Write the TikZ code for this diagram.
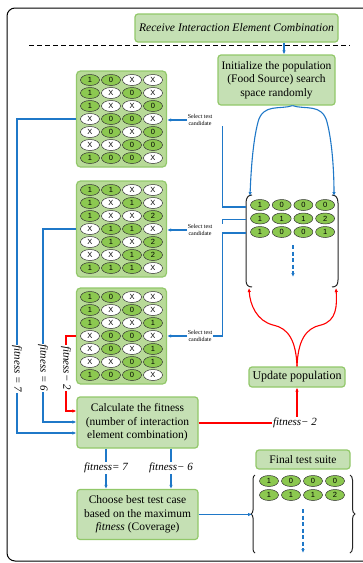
\documentclass[tikz,border=0pt]{standalone}
\usepackage{fontspec}
\setmainfont{Liberation Serif}
\setsansfont{Liberation Sans}
\usetikzlibrary{shapes.geometric,arrows.meta,decorations.pathreplacing,calc}

\definecolor{boxfill}{HTML}{C5E0B4}
\definecolor{boxline}{HTML}{92C86A}
\definecolor{gridfill}{HTML}{B8DA98}
\definecolor{cellgreen}{HTML}{8CC850}
\definecolor{flowblue}{HTML}{1F78C8}
\definecolor{flowred}{HTML}{FF0000}

\tikzset{
  stepbox/.style={draw=boxline, fill=boxfill, line width=1.2pt, rounded corners=3pt,
    align=center, inner sep=0pt, font=\fontsize{11.5}{13.5}\selectfont},
  gridbox/.style={draw=boxline, fill=gridfill, line width=1.2pt, rounded corners=4pt,
    minimum width=90pt, minimum height=96pt, inner sep=0pt},
  cell/.style={ellipse, draw=black!80, line width=0.5pt, minimum width=19pt,
    minimum height=11pt, inner sep=0pt, font=\sffamily\fontsize{7.5}{7.5}\selectfont},
  gcell/.style={cell, fill=cellgreen},
  wcell/.style={cell, fill=white},
  pick/.style={font=\fontsize{6}{6.5}\selectfont, align=center, inner sep=0.5pt},
  fitlabel/.style={font=\itshape\fontsize{11}{11}\selectfont, fill=white, inner sep=1pt},
  blueflow/.style={draw=flowblue, line width=1.1pt},
  redflow/.style={draw=flowred, line width=1.1pt},
  tip/.style={-{Latex[length=4pt,width=3.5pt]}},
  bracketline/.style={draw=black!85, line width=1pt},
}

% grid of ellipse cells: name, x0, y0, dx, dy, rows
\newcommand\cellgrid[6]{%
  \foreach \rowvals [count=\rr] in {#6} {
    \foreach \val [count=\cc] in \rowvals {
      \if\val X
        \node[wcell] (#1-\rr-\cc) at ({#2+(\cc-1)*#4}, {#3+(\rr-1)*#5}) {\val};
      \else
        \node[gcell] (#1-\rr-\cc) at ({#2+(\cc-1)*#4}, {#3+(\rr-1)*#5}) {\val};
      \fi
    }
  }
}

\begin{document}
\begin{tikzpicture}[x=1pt, y=-1pt]
\useasboundingbox (0,0) rectangle (363,563);
\fill[white] (0,0) rectangle (363,563);
\clip (0,0) rectangle (363,563);

% outer frame and separator
\draw[line width=1pt, rounded corners=8pt] (7,8) rectangle (376,561);
\coordinate (sepL) at (29,45);
\coordinate (sepR) at (350,45);

% top boxes
\node[stepbox, minimum width=203pt, minimum height=28pt,
  font=\itshape\fontsize{11.6}{13}\selectfont] (recv) at (236.5,28)
  {Receive Interaction Element Combination};
\draw[line width=1pt, dash pattern=on 5pt off 3pt] (sepL) -- (sepR);
\node[stepbox, minimum width=117pt, minimum height=50pt] (init) at (276.5,80)
  {Initialize the population\\(Food Source) search\\space randomly};
\coordinate (rx) at (284,0);
\draw[blueflow, tip] (recv.south -| rx) -- (init.north -| rx);

% candidate grids
\node[gridbox] (m1) at (121.5,119) {};
\cellgrid{a}{90}{80}{21}{13}{{1,0,X,X},{1,X,0,X},{1,X,X,0},{X,0,0,X},{X,0,X,0},{X,X,0,0},{1,0,0,X}}
\node[gridbox] (m2) at (121.5,229) {};
\cellgrid{b}{90}{190}{21}{13}{{1,1,X,X},{1,X,1,X},{1,X,X,2},{X,1,1,X},{X,1,X,2},{X,X,1,2},{1,1,1,X}}
\node[gridbox] (m3) at (121.5,336) {};
\cellgrid{c}{90}{297}{21}{13}{{1,0,X,X},{1,X,0,X},{1,X,X,1},{X,0,0,X},{X,0,X,1},{X,X,0,1},{1,0,0,X}}

% selection labels
\node[pick] (s1) at (200,120) {Select test\\candidate};
\node[pick] (s2) at (200,230) {Select test\\candidate};
\node[pick] (s3) at (200,336) {Select test\\candidate};
\draw[blueflow, tip] (s1.west) -- (s1.west -| m1.east);
\draw[blueflow, tip] (s2.west) -- (s2.west -| m2.east);
\draw[blueflow, tip] (s3.west) -- (s3.west -| m3.east);

% population
\coordinate (popC) at (292.5,241);
\cellgrid{p}{260}{205}{21.7}{13.5}{{1,0,0,0},{1,1,1,2},{1,0,0,1}}
\draw[bracketline] (252,195) .. controls (248,195) and (246,198) .. (246,203)
  -- (246,280) .. controls (246,285) and (248,287) .. (252,287);
\draw[bracketline] (332,195) .. controls (336,195) and (338,198) .. (338,203)
  -- (338,280) .. controls (338,285) and (336,287) .. (332,287);
\coordinate (popTL) at (250,196);
\coordinate (popTR) at (334,196);
\coordinate (popBL) at (249,288);
\coordinate (popBR) at (336,288);
\coordinate (p1) at (246,207);
\coordinate (p2) at (246,219.5);
\coordinate (p3) at (246,233);
\coordinate (pdA) at (293,245);
\coordinate (pdB) at (293,277);
\draw[blueflow, dashed, dash pattern=on 4pt off 2.5pt, tip] (pdA) -- (pdB);

\draw[blueflow] ([xshift=10pt]s1.south east) |- (p1);
\draw[blueflow] ([xshift=10pt]s2.north east) |- (p2);
\draw[blueflow] (s3.east) -- ([xshift=10pt]s3.east) |- (p3);

% initial population spread
\draw[blueflow, tip] (init.south -| popC) .. controls (280,110) and (263,103) .. (258,122)
  .. controls (253,141) and (251,170) .. (popTL);
\draw[blueflow, tip] (init.south -| popC) .. controls (305,110) and (322,103) .. (327,122)
  .. controls (332,141) and (334,170) .. (popTR);

% update population
\node[stepbox, minimum width=96pt, minimum height=20pt, font=\fontsize{12}{14}\selectfont]
  (upd) at (297,377) {Update population};
\draw[redflow, tip] (upd.north) .. controls (296,340) and (288,328) .. (273,325)
  .. controls (257,321) and (250,305) .. (popBL);
\draw[redflow, tip] (upd.north) .. controls (298,340) and (306,328) .. (321,325)
  .. controls (337,321) and (337,305) .. (popBR);

% fitness evaluation
\node[stepbox, minimum width=121pt, minimum height=51pt] (calc) at (137.5,422.5)
  {Calculate the fitness\\(number of interaction\\element combination)};
\node[stepbox, minimum width=121pt, minimum height=50pt] (best) at (137.5,514.5)
  {Choose best test case\\based on the maximum\\\textit{fitness} (Coverage)};

\node[fitlabel, rotate=-90] (f7l) at (17,369) {fitness = 7};
\node[fitlabel, rotate=-90] (f6l) at (43,368) {fitness = 6};
\node[fitlabel, rotate=-90] (f2l) at (66,368) {fitness− 2};
\coordinate (c7) at (17,433);
\coordinate (c6) at (43,422);
\coordinate (c2) at (66,411);
\draw[blueflow] (m1.west) -- (m1.west -| f7l) -- (f7l);
\draw[blueflow, tip] (f7l) -- (c7) -- (c7 -| calc.west);
\draw[blueflow] (m2.west) -- (m2.west -| f6l) -- (f6l);
\draw[blueflow, tip] (f6l) -- (c6) -- (c6 -| calc.west);
\draw[redflow] (m3.west) -- (m3.west -| f2l) -- (f2l);
\draw[redflow, tip] (f2l) -- (c2) -- (c2 -| calc.west);

\node[fitlabel] (f2r) at (295,423) {fitness− 2};
\draw[redflow] (calc.east |- f2r) -- (f2r);
\draw[redflow, tip] (f2r.north -| upd.south) -- (upd.south);

\node[fitlabel] (f7b) at (106,468) {fitness= 7};
\node[fitlabel] (f6b) at (171,468) {fitness− 6};
\draw[blueflow] (calc.south -| f7b) -- (f7b);
\draw[blueflow, tip] (f7b) -- (best.north -| f7b);
\draw[blueflow] (calc.south -| f6b) -- (f6b);
\draw[blueflow, tip] (f6b) -- (best.north -| f6b);

% final test suite
\node[stepbox, minimum width=94pt, minimum height=19pt] (final) at (303,459.5) {Final test suite};
\cellgrid{f}{269}{481}{22}{14}{{1,0,0,0},{1,1,1,2}}
\draw[decorate, decoration={brace, amplitude=4pt}, bracketline] (255,553) -- (255,475);
\draw[decorate, decoration={brace, amplitude=5pt}, bracketline] (350,475) -- (350,553);
\coordinate (fsL) at (252,514);
\draw[blueflow, tip] (best.east) -- (best.east -| fsL);
\coordinate (fdA) at (303,509);
\coordinate (fdB) at (303,553);
\draw[blueflow, dashed, dash pattern=on 4pt off 2.5pt, tip] (fdA) -- (fdB);
\end{tikzpicture}
\end{document}
